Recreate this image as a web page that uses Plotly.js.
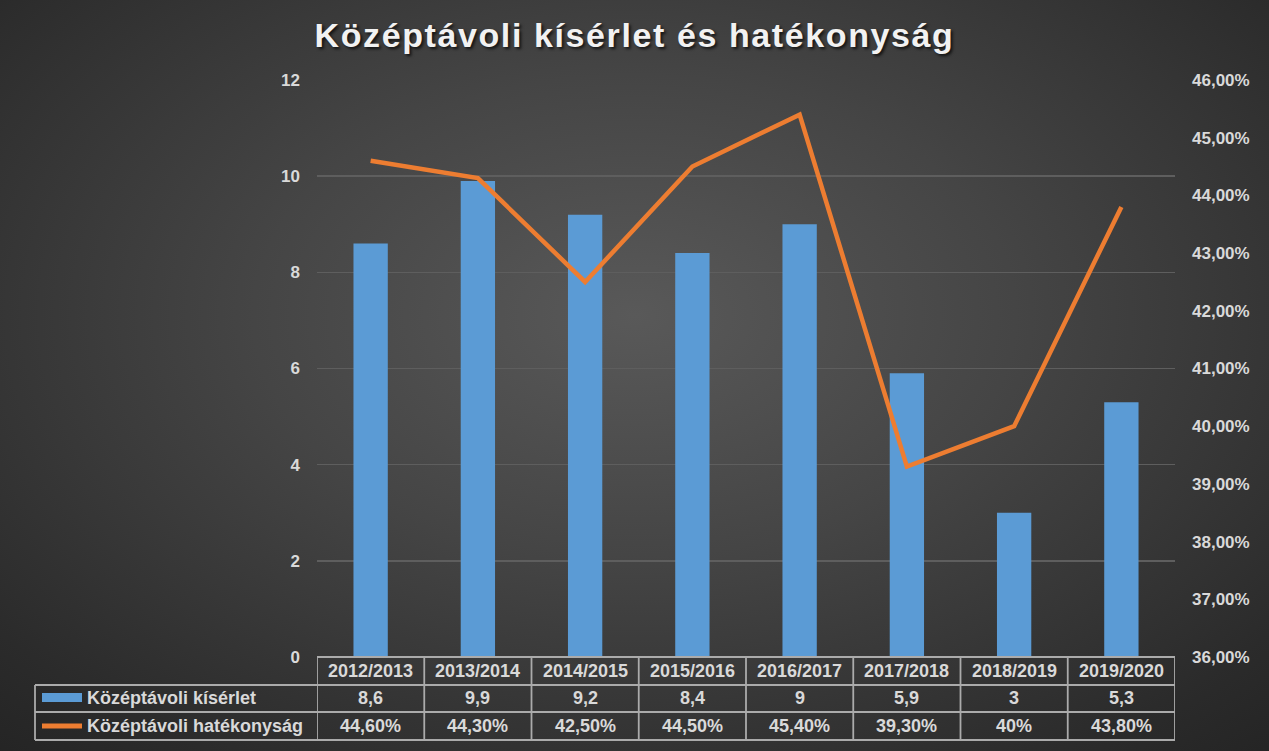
<!DOCTYPE html>
<html>
<head>
<meta charset="utf-8">
<script src="https://cdn.plot.ly/plotly-3.0.1.min.js"></script>
<style>
  html, body { margin: 0; padding: 0; }
  body {
    width: 1269px; height: 751px; overflow: hidden;
    background: radial-gradient(ellipse 75% 80% at 50% 42%, #595959 0%, #454545 40%, #2b2b2b 85%, #242424 100%);
  }
  #chart { width: 1269px; height: 751px; }
  .gtitle { letter-spacing: 1.6px; }
</style>
</head>
<body>
<div id="chart"></div>
<script>
var seasons = ['2012/2013', '2013/2014', '2014/2015', '2015/2016', '2016/2017', '2017/2018', '2018/2019', '2019/2020'];
var attempts = [8.6, 9.9, 9.2, 8.4, 9, 5.9, 3, 5.3];
var efficiency = [0.446, 0.443, 0.425, 0.445, 0.454, 0.393, 0.40, 0.438];
var attemptLabels = ['8,6', '9,9', '9,2', '8,4', '9', '5,9', '3', '5,3'];
var efficiencyLabels = ['44,60%', '44,30%', '42,50%', '44,50%', '45,40%', '39,30%', '40%', '43,80%'];
var seriesNames = ['Középtávoli kísérlet', 'Középtávoli hatékonyság'];

var W = 1269, H = 751;
var M = {l: 317, r: 94, t: 80, b: 94};
var plotH = H - M.t - M.b;
var plotW = W - M.l - M.r;
// pixel -> paper helpers for the table drawn under the plot
function py(p) { return (H - M.b - p) / plotH; }
function px(p) { return (p - M.l) / plotW; }

var fontMain = '"Liberation Sans", Arial, sans-serif';
var textCol = '#d9d9d9';
var lineCol = '#ababab';
var tableFont = {family: fontMain, size: 18, color: textCol, weight: 'bold'};

var bars = {
  x: seasons,
  y: attempts,
  name: seriesNames[0],
  type: 'bar',
  width: 0.32,
  marker: {color: '#5b9bd5'},
  hoverinfo: 'x+y'
};

var line = {
  x: seasons,
  y: efficiency,
  name: seriesNames[1],
  type: 'scatter',
  mode: 'lines',
  yaxis: 'y2',
  line: {color: '#ed7d31', width: 4.5}
};

// table rows (y pixel centres and borders)
var rowY = [671, 698, 726];
var rowLines = [657, 685, 712, 740];
var tableLeft = 35;

var annotations = [];
seasons.forEach(function (s, i) {
  [s, attemptLabels[i], efficiencyLabels[i]].forEach(function (t, r) {
    annotations.push({x: i, y: py(rowY[r]), xref: 'x', yref: 'paper', xanchor: 'center', yanchor: 'middle',
      text: t, showarrow: false, font: tableFont});
  });
});
seriesNames.forEach(function (n, k) {
  annotations.push({x: px(85), y: py(rowY[k + 1]), xref: 'paper', yref: 'paper', xanchor: 'left', yanchor: 'middle',
    text: n, showarrow: false, font: tableFont});
});

var shapes = [];
// horizontal lines
shapes.push({type: 'line', xref: 'paper', yref: 'paper', x0: 0, x1: 1, y0: py(rowLines[0]), y1: py(rowLines[0]),
  line: {color: lineCol, width: 1.8}});
for (var r = 1; r < rowLines.length; r++) {
  shapes.push({type: 'line', xref: 'paper', yref: 'paper', x0: px(tableLeft), x1: 1, y0: py(rowLines[r]), y1: py(rowLines[r]),
    line: {color: lineCol, width: 1.8}});
}
// vertical lines on category boundaries
for (var c = 0; c <= seasons.length; c++) {
  shapes.push({type: 'line', xref: 'x', yref: 'paper', x0: c - 0.5, x1: c - 0.5, y0: py(rowLines[0]), y1: py(rowLines[3]),
    line: {color: lineCol, width: 1.8}});
}
shapes.push({type: 'line', xref: 'paper', yref: 'paper', x0: px(tableLeft), x1: px(tableLeft), y0: py(rowLines[1]), y1: py(rowLines[3]),
  line: {color: lineCol, width: 1.8}});
// legend keys inside the table
shapes.push({type: 'rect', xref: 'paper', yref: 'paper', x0: px(42), x1: px(82), y0: py(702), y1: py(693),
  fillcolor: '#5b9bd5', line: {width: 0}});
shapes.push({type: 'line', xref: 'paper', yref: 'paper', x0: px(42), x1: px(82), y0: py(726), y1: py(726),
  line: {color: '#ed7d31', width: 5}});

var layout = {
  width: W, height: H,
  margin: M,
  paper_bgcolor: 'rgba(0,0,0,0)',
  plot_bgcolor: 'rgba(0,0,0,0)',
  showlegend: false,
  separators: ',.',
  title: {
    text: 'Középtávoli kísérlet és hatékonyság',
    x: 0.5, xanchor: 'center', y: 0.953, yanchor: 'middle',
    font: {family: fontMain, size: 34, color: '#f2f2f2', weight: 'bold',
      shadow: '2px 2px 3px rgba(0,0,0,0.7)'}
  },
  xaxis: {
    type: 'category',
    range: [-0.5, seasons.length - 0.5],
    showticklabels: false,
    showgrid: false,
    zeroline: false,
    showline: false,
    ticks: ''
  },
  yaxis: {
    range: [0, 12],
    dtick: 2,
    tickfont: {family: fontMain, size: 17, color: textCol, weight: 'bold'},
    gridcolor: '#5e5e5e',
    gridwidth: 1.5,
    zeroline: false,
    showline: false,
    ticks: '',
    ticklabelstandoff: 16
  },
  yaxis2: {
    overlaying: 'y',
    side: 'right',
    range: [0.36, 0.46],
    dtick: 0.01,
    tickformat: '.2%',
    tickfont: {family: fontMain, size: 17, color: textCol, weight: 'bold'},
    showgrid: false,
    zeroline: false,
    showline: false,
    ticks: '',
    ticklabelstandoff: 16
  },
  annotations: annotations,
  shapes: shapes
};

Plotly.newPlot('chart', [bars, line], layout, {displayModeBar: false, staticPlot: true});
</script>
</body>
</html>
